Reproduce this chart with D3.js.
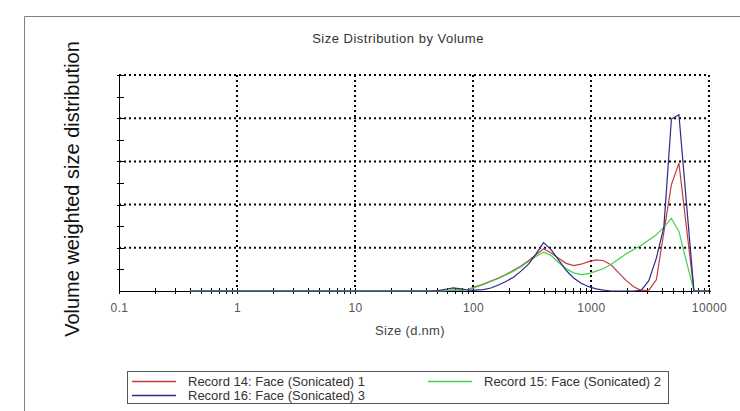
<!DOCTYPE html>
<html>
<head>
<meta charset="utf-8">
<script src="https://cdn.jsdelivr.net/npm/d3@7"></script>
<style>
  body { margin: 0; background: #fff; }
  svg { display: block; font-family: "Liberation Sans", Arial, sans-serif; }
</style>
</head>
<body>
<div id="chart"></div>
<script>
// size classes (d.nm)
const sizes = [0.4, 0.4632, 0.5365, 0.6213, 0.7195, 0.8332, 0.9649, 1.117, 1.294, 1.499,
  1.736, 2.010, 2.328, 2.696, 3.122, 3.615, 4.187, 4.849, 5.615, 6.503,
  7.531, 8.721, 10.10, 11.70, 13.54, 15.69, 18.17, 21.04, 24.36, 28.21,
  32.67, 37.84, 43.82, 50.75, 58.77, 68.06, 78.82, 91.28, 105.7, 122.4,
  141.8, 164.2, 190.1, 220.2, 255.0, 295.3, 342.0, 396.1, 458.7, 531.2,
  615.1, 712.4, 825.0, 955.4, 1106, 1281, 1484, 1718, 1990, 2305,
  2669, 3091, 3580, 4145, 4801, 5560, 6439, 7456, 8635, 10000];

const zeros = [0, 0, 0, 0, 0, 0, 0, 0, 0, 0, 0, 0, 0, 0, 0, 0, 0,
  0, 0, 0, 0, 0, 0, 0, 0, 0, 0, 0, 0, 0, 0, 0, 0];

// volume values (classes 50.75 .. 10000)
const record14 = zeros.concat([0, 0.05, 0.1, 0.1, 0.2, 0.5, 0.8, 1.15, 1.5, 1.9,
  2.4, 2.9, 3.5, 4.2, 4.9, 4.4, 3.8, 3.2, 2.95, 3.1,
  3.4, 3.6, 3.5, 3.0, 2.1, 1.2, 0.5, 0.05, 0.1, 1.3,
  6.8, 12.3, 14.8, 7.4, 0, 0, 0]);
const record15 = zeros.concat([0, 0.05, 0.1, 0.1, 0.2, 0.45, 0.75, 1.1, 1.45, 1.85,
  2.3, 2.8, 3.4, 4.0, 4.5, 4.1, 3.3, 2.6, 2.1, 1.9,
  2.0, 2.3, 2.6, 3.1, 3.7, 4.3, 4.8, 5.3, 5.9, 6.5,
  7.4, 8.4, 6.9, 3.4, 0, 0, 0]);
const record16 = zeros.concat([0.05, 0.2, 0.35, 0.25, 0.1, 0.1, 0.15, 0.35, 0.7, 1.1,
  1.6, 2.3, 3.1, 4.3, 5.6, 4.8, 3.6, 2.4, 1.5, 0.9,
  0.5, 0.25, 0.1, 0, 0, 0, 0, 0.1, 1.2, 3.8,
  7.4, 19.9, 20.4, 10.2, 0, 0, 0]);

const seriesNames = ["Record 14: Face (Sonicated) 1", "Record 15: Face (Sonicated) 2", "Record 16: Face (Sonicated) 3"];
const seriesColors = ["#c8393a", "#3fd24a", "#2b2b8c"];
const xTicks = [0.1, 1, 10, 100, 1000, 10000];
const yGrid = [5, 10, 15, 20, 25];
const yMinor = [2.5, 7.5, 12.5, 17.5, 22.5];

const width = 740, height = 411;

const svg = d3.select("#chart").append("svg")
  .attr("width", width)
  .attr("height", height);

svg.append("rect").attr("width", width).attr("height", height).attr("fill", "#fff");

// outer frame (only left and top visible)
svg.append("path")
  .attr("d", "M24.5,411V16.5H740")
  .attr("fill", "none")
  .attr("stroke", "#808080");

const x = d3.scaleLog().domain([0.1, 10000]).range([119, 709]);
const y = d3.scaleLinear().domain([0, 25]).range([291, 75]);

// title
svg.append("text")
  .attr("x", 398).attr("y", 43)
  .attr("text-anchor", "middle")
  .attr("font-size", 13)
  .attr("letter-spacing", 0.5)
  .attr("fill", "#333")
  .text("Size Distribution by Volume");

// y label
svg.append("text")
  .attr("transform", "translate(79,189) rotate(-90)")
  .attr("text-anchor", "middle")
  .attr("font-size", 20)
  .attr("fill", "#111")
  .text("Volume weighted size distribution");

// dotted grid
const grid = svg.append("g")
  .attr("stroke", "#000")
  .attr("stroke-width", 2)
  .attr("stroke-dasharray", "2,3");

grid.selectAll(".hg").data(yGrid).enter().append("line")
  .attr("x1", x(0.1)).attr("x2", x(10000))
  .attr("y1", d => y(d)).attr("y2", d => y(d));

grid.selectAll(".vg").data(xTicks.slice(1)).enter().append("line")
  .attr("x1", d => x(d)).attr("x2", d => x(d))
  .attr("y1", y(25)).attr("y2", y(0));

// minor log ticks on the x axis
const logTicks = [];
xTicks.forEach(function(t, i) {
  logTicks.push(t);
  if (i < xTicks.length - 1) {
    for (let k = 2; k < 10; k++) logTicks.push(t * k);
  }
});

const axes = svg.append("g").attr("stroke", "#000").attr("stroke-width", 1);

axes.selectAll(".xt").data(logTicks).enter().append("line")
  .attr("x1", d => Math.round(x(d)) + 0.5).attr("x2", d => Math.round(x(d)) + 0.5)
  .attr("y1", y(0) - 3).attr("y2", y(0) + 3);

axes.selectAll(".yt").data(yGrid.concat(yMinor)).enter().append("line")
  .attr("x1", x(0.1) - 2).attr("x2", x(0.1) + 5)
  .attr("y1", d => Math.round(y(d)) + 0.5).attr("y2", d => Math.round(y(d)) + 0.5);

axes.append("line")
  .attr("x1", x(0.1) + 0.5).attr("x2", x(0.1) + 0.5)
  .attr("y1", y(25)).attr("y2", y(0));

axes.append("line")
  .attr("x1", x(0.1)).attr("x2", x(10000) + 2)
  .attr("y1", y(0) + 0.5).attr("y2", y(0) + 0.5);

// x tick labels
const xAxis = d3.axisBottom(x)
  .tickValues(xTicks)
  .tickSize(0)
  .tickPadding(0)
  .tickFormat(d => String(d));

const gx = svg.append("g")
  .attr("transform", "translate(0," + (y(0) + 12) + ")")
  .call(xAxis);
gx.select(".domain").remove();
gx.selectAll("text")
  .attr("font-size", 12)
  .attr("letter-spacing", 0.4)
  .attr("font-family", "Liberation Sans, Arial, sans-serif")
  .attr("fill", "#555");

svg.append("text")
  .attr("x", 410).attr("y", 335)
  .attr("text-anchor", "middle")
  .attr("font-size", 13)
  .attr("letter-spacing", 0.3)
  .attr("fill", "#444")
  .text("Size (d.nm)");

// curves
const allSeries = [record14, record15, record16];
const line = d3.line()
  .x(d => x(d[0]))
  .y(d => y(d[1]));

allSeries.forEach(function(vals, i) {
  svg.append("path")
    .datum(sizes.map((s, j) => [s, vals[j]]))
    .attr("fill", "none")
    .attr("stroke", seriesColors[i])
    .attr("stroke-width", 1.2)
    .attr("d", line);
});

// legend
const legend = svg.append("g");
legend.append("rect")
  .attr("x", 127.5).attr("y", 371.5)
  .attr("width", 541).attr("height", 32)
  .attr("fill", "#fff")
  .attr("stroke", "#555");

const legendPos = [[132, 381], [428, 381], [132, 395]];
seriesNames.forEach(function(name, i) {
  const p = legendPos[i];
  legend.append("line")
    .attr("x1", p[0]).attr("x2", p[0] + 44)
    .attr("y1", p[1] + 0.5).attr("y2", p[1] + 0.5)
    .attr("stroke", seriesColors[i])
    .attr("stroke-width", 1.3);
  legend.append("text")
    .attr("x", p[0] + 56).attr("y", p[1] + 5)
    .attr("font-size", 13)
    .attr("fill", "#333")
    .text(name);
});
</script>
</body>
</html>
